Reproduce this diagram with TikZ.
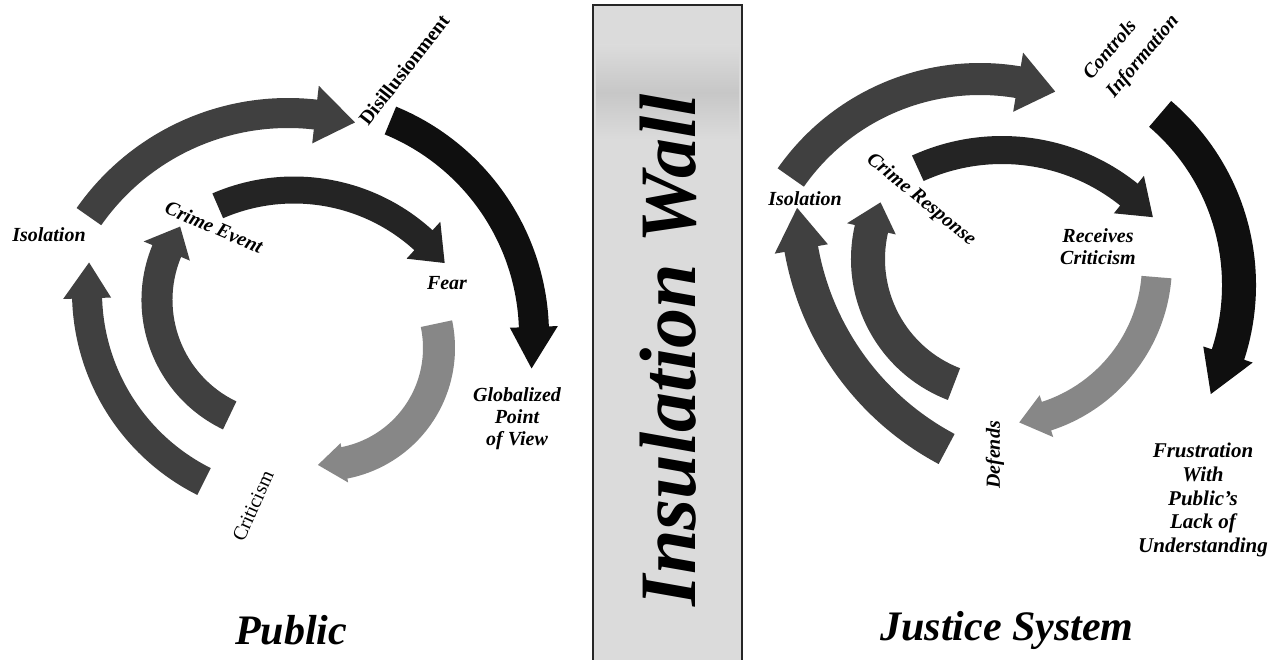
\documentclass[tikz,border=0pt]{standalone}
\usepackage{fontspec}
\setmainfont{Liberation Serif}
\usetikzlibrary{calc}
\definecolor{dkgrey}{gray}{0.25}
\definecolor{blk}{gray}{0.06}
\definecolor{nblk}{gray}{0.14}
\definecolor{ltgrey}{gray}{0.53}
\definecolor{wallgrey}{gray}{0.86}
\definecolor{wallband}{gray}{0.78}
% #1 colour, #2 cx, #3 cy, #4 mid radius, #5 half width, #6 start angle,
% #7 shaft end angle, #8 tip angle, #9 head half width
\newcommand{\arcarrow}[9]{%
  \fill[#1] ({#2+(#4+#5)*cos(#6)},{#3+(#4+#5)*sin(#6)})
    arc[start angle=#6, end angle=#7, radius={#4+#5}]
    -- ({#2+(#4+#9)*cos(#7)},{#3+(#4+#9)*sin(#7)})
    -- ({#2+#4*cos(#8)},{#3+#4*sin(#8)})
    -- ({#2+(#4-#9)*cos(#7)},{#3+(#4-#9)*sin(#7)})
    -- ({#2+(#4-#5)*cos(#7)},{#3+(#4-#5)*sin(#7)})
    arc[start angle=#7, end angle=#6, radius={#4-#5}]
    -- cycle;}
\tikzset{
  lbl/.style={font=\fontsize{20}{22}\selectfont\bfseries\itshape, inner sep=0pt},
  lblup/.style={font=\fontsize{20}{22}\selectfont, inner sep=0pt},
  lblbold/.style={font=\fontsize{20}{22}\selectfont\bfseries, inner sep=0pt},
  title/.style={font=\fontsize{42}{48}\selectfont\bfseries\itshape, inner sep=0pt},
  walltext/.style={font=\fontsize{80}{90}\selectfont\bfseries\itshape, inner sep=0pt}
}
\begin{document}
\begin{tikzpicture}[x=1pt, y=-1pt]
\useasboundingbox (0,0) rectangle (1280,660);
\fill[white] (0,0) rectangle (1280,660);

% ---------- insulation wall ----------
\fill[wallgrey] (593,5) rectangle (742,660);
\shade[top color=wallgrey, bottom color=wallgrey, middle color=wallband] (596,45) rectangle (739,140);
\draw[line width=2pt, black!85] (593,660) -- (593,5) -- (742,5) -- (742,660);
\node[walltext, rotate=90] (wall) at (668,350) {Insulation Wall};

% ---------- Public cycle ----------
\arcarrow{dkgrey}{288}{356}{243}{15}{-145}{-83.5}{-74}{29}   % Isolation -> Disillusionment
\arcarrow{blk}{302}{335}{232}{15}{-67.6}{-2}{8.3}{24}        % Disillusionment -> Globalized
\arcarrow{ltgrey}{322}{348}{117}{16}{-12}{79}{92}{20}        % Fear -> Criticism
\arcarrow{dkgrey}{299}{292}{212}{15}{116.6}{178.3}{188}{24}  % Criticism -> Isolation
\arcarrow{dkgrey}{285}{300}{128}{15.5}{115.6}{202.5}{215}{25}% -> Crime Event
\arcarrow{nblk}{294}{382}{192}{13.5}{-113.4}{-47.6}{-38.3}{25}% Crime Event -> Fear

\node[lbl] (isoL) at (49,235) {Isolation};
\node[lbl, rotate=-23] (crimeL) at (214,227) {Crime Event};
\node[lblbold, rotate=52] (disil) at (404,70) {Disillusionment};
\node[lbl] (fear) at (447,283) {Fear};
\node[lbl, align=center, font=\fontsize{20}{22}\selectfont\bfseries\itshape] (glob) at (517,419) {Globalized\\Point\\of View};
\node[lblup, rotate=66] (crit) at (253,506) {Criticism};
\node[title] (pub) at (291,630) {Public};

% ---------- Justice System cycle ----------
\arcarrow{dkgrey}{980}{310}{231}{16}{-145}{-80.5}{-71}{30}    % Isolation -> Controls Information
\arcarrow{blk}{1014}{285}{225}{17}{-49.5}{18}{29}{26}         % -> Frustration
\arcarrow{ltgrey}{997}{264}{160}{15}{4.7}{72}{82}{22}         % Receives Criticism -> Defends
\arcarrow{dkgrey}{1079}{200}{282}{17}{118}{170}{178.4}{27}    % Defends -> Isolation
\arcarrow{dkgrey}{1002}{259}{134}{17}{111}{193}{205}{25}      % -> Crime Response
\arcarrow{nblk}{1002}{353}{203}{14}{-114.5}{-51.3}{-42}{24}   % Crime Response -> Receives Criticism

\node[lbl] (isoR) at (805,199) {Isolation};
\node[lbl, rotate=-39] (crimeR) at (921,200) {Crime Response};
\node[lbl, rotate=50] (ctrl) at (1109,49) {Controls};
\node[lbl, rotate=50] (info) at (1143,57) {Information};
\node[lbl, align=center] (recv) at (1098,247) {Receives\\Criticism};
\node[lbl, rotate=90] (def) at (995,455) {Defends};
\node[lbl, align=center, font=\fontsize{21}{23.7}\selectfont\bfseries\itshape] (frus) at (1203,500) {Frustration\\With\\Public's\\Lack of\\Understanding};
\node[title] (js) at (1007,630) {Justice System};
\end{tikzpicture}
\end{document}
